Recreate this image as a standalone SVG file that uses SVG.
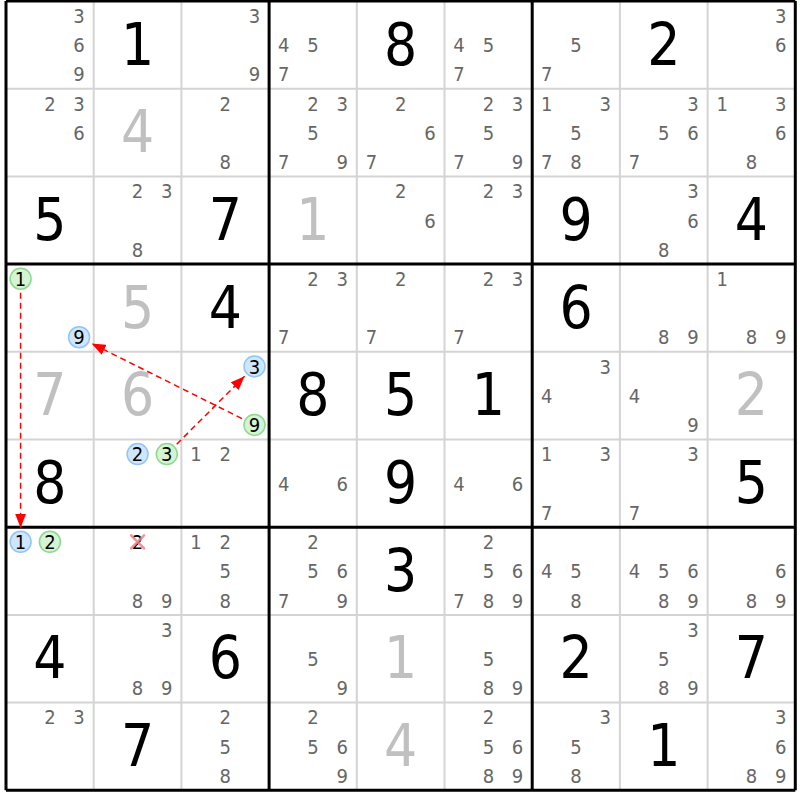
<svg xmlns="http://www.w3.org/2000/svg" width="800" height="800" viewBox="0 0 800 800">
<style>
text{font-family:"DejaVu Sans Condensed","DejaVu Sans",sans-serif;text-anchor:middle}
.g{font-size:58px;fill:#000}
.s{font-size:58px;fill:#c0c0c0}
.c{font-size:20px;fill:#666}
.k{font-size:20px;fill:#000}
.thin{stroke:#d4d4d4;stroke-width:2}
.thick{stroke:#000;stroke-width:3}
.hg{fill:#d4f4d4;stroke:#8fd88f;stroke-width:1.5}
.hb{fill:#cfe6ff;stroke:#92c5f5;stroke-width:1.5}
.arr{stroke:#ff0000;stroke-width:1.5;stroke-dasharray:6 4;fill:none}
.x{stroke:#f08080;stroke-width:2.5;stroke-linecap:round;opacity:0.85}
</style>
<defs>
<marker id="ah" viewBox="0 0 14 11" refX="14" refY="5.5" markerWidth="14" markerHeight="11" markerUnits="userSpaceOnUse" orient="auto">
<path d="M0,0 L14,5.5 L0,11 Z" fill="#ff0000"/>
</marker>
</defs>
<rect width="800" height="800" fill="#fff"/>
<g id="grid">
<path class="thin" d="M93.7,1V790.3M181.4,1V790.3M356.8,1V790.3M444.5,1V790.3M619.9,1V790.3M707.6,1V790.3M6,88.7H795.3M6,176.4H795.3M6,351.8H795.3M6,439.5H795.3M6,614.9H795.3M6,702.6H795.3"/>
<path class="thick" d="M6,1V790.3M269.1,1V790.3M532.2,1V790.3M795.3,1V790.3M6,1H795.3M6,264.1H795.3M6,527.2H795.3M6,790.3H795.3"/>
</g>
<!-- row 0 -->
<g id="r0c0" transform="translate(6,1)"><text class="c" x="73.1" y="21.9">3</text><text class="c" x="73.1" y="51.2">6</text><text class="c" x="73.1" y="80.4">9</text></g>
<g id="r0c1" transform="translate(93.7,1)"><text class="g" x="43.85" y="63.5">1</text></g>
<g id="r0c2" transform="translate(181.4,1)"><text class="c" x="73.1" y="21.9">3</text><text class="c" x="73.1" y="80.4">9</text></g>
<g id="r0c3" transform="translate(269.1,1)"><text class="c" x="14.6" y="51.2">4</text><text class="c" x="43.9" y="51.2">5</text><text class="c" x="14.6" y="80.4">7</text></g>
<g id="r0c4" transform="translate(356.8,1)"><text class="g" x="43.85" y="63.5">8</text></g>
<g id="r0c5" transform="translate(444.5,1)"><text class="c" x="14.6" y="51.2">4</text><text class="c" x="43.9" y="51.2">5</text><text class="c" x="14.6" y="80.4">7</text></g>
<g id="r0c6" transform="translate(532.2,1)"><text class="c" x="43.9" y="51.2">5</text><text class="c" x="14.6" y="80.4">7</text></g>
<g id="r0c7" transform="translate(619.9,1)"><text class="g" x="43.85" y="63.5">2</text></g>
<g id="r0c8" transform="translate(707.6,1)"><text class="c" x="73.1" y="21.9">3</text><text class="c" x="73.1" y="51.2">6</text></g>
<!-- row 1 -->
<g id="r1c0" transform="translate(6,88.7)"><text class="c" x="43.9" y="21.9">2</text><text class="c" x="73.1" y="21.9">3</text><text class="c" x="73.1" y="51.2">6</text></g>
<g id="r1c1" transform="translate(93.7,88.7)"><text class="s" x="43.85" y="63.5">4</text></g>
<g id="r1c2" transform="translate(181.4,88.7)"><text class="c" x="43.9" y="21.9">2</text><text class="c" x="43.9" y="80.4">8</text></g>
<g id="r1c3" transform="translate(269.1,88.7)"><text class="c" x="43.9" y="21.9">2</text><text class="c" x="73.1" y="21.9">3</text><text class="c" x="43.9" y="51.2">5</text><text class="c" x="14.6" y="80.4">7</text><text class="c" x="73.1" y="80.4">9</text></g>
<g id="r1c4" transform="translate(356.8,88.7)"><text class="c" x="43.9" y="21.9">2</text><text class="c" x="73.1" y="51.2">6</text><text class="c" x="14.6" y="80.4">7</text></g>
<g id="r1c5" transform="translate(444.5,88.7)"><text class="c" x="43.9" y="21.9">2</text><text class="c" x="73.1" y="21.9">3</text><text class="c" x="43.9" y="51.2">5</text><text class="c" x="14.6" y="80.4">7</text><text class="c" x="73.1" y="80.4">9</text></g>
<g id="r1c6" transform="translate(532.2,88.7)"><text class="c" x="14.6" y="21.9">1</text><text class="c" x="73.1" y="21.9">3</text><text class="c" x="43.9" y="51.2">5</text><text class="c" x="14.6" y="80.4">7</text><text class="c" x="43.9" y="80.4">8</text></g>
<g id="r1c7" transform="translate(619.9,88.7)"><text class="c" x="73.1" y="21.9">3</text><text class="c" x="43.9" y="51.2">5</text><text class="c" x="73.1" y="51.2">6</text><text class="c" x="14.6" y="80.4">7</text></g>
<g id="r1c8" transform="translate(707.6,88.7)"><text class="c" x="14.6" y="21.9">1</text><text class="c" x="73.1" y="21.9">3</text><text class="c" x="73.1" y="51.2">6</text><text class="c" x="43.9" y="80.4">8</text></g>
<!-- row 2 -->
<g id="r2c0" transform="translate(6,176.4)"><text class="g" x="43.85" y="63.5">5</text></g>
<g id="r2c1" transform="translate(93.7,176.4)"><text class="c" x="43.9" y="21.9">2</text><text class="c" x="73.1" y="21.9">3</text><text class="c" x="43.9" y="80.4">8</text></g>
<g id="r2c2" transform="translate(181.4,176.4)"><text class="g" x="43.85" y="63.5">7</text></g>
<g id="r2c3" transform="translate(269.1,176.4)"><text class="s" x="43.85" y="63.5">1</text></g>
<g id="r2c4" transform="translate(356.8,176.4)"><text class="c" x="43.9" y="21.9">2</text><text class="c" x="73.1" y="51.2">6</text></g>
<g id="r2c5" transform="translate(444.5,176.4)"><text class="c" x="43.9" y="21.9">2</text><text class="c" x="73.1" y="21.9">3</text></g>
<g id="r2c6" transform="translate(532.2,176.4)"><text class="g" x="43.85" y="63.5">9</text></g>
<g id="r2c7" transform="translate(619.9,176.4)"><text class="c" x="73.1" y="21.9">3</text><text class="c" x="73.1" y="51.2">6</text><text class="c" x="43.9" y="80.4">8</text></g>
<g id="r2c8" transform="translate(707.6,176.4)"><text class="g" x="43.85" y="63.5">4</text></g>
<!-- row 3 -->
<g id="r3c0" transform="translate(6,264.1)"><circle class="hg" cx="14.6" cy="14.6" r="10.5"/><text class="k" x="14.6" y="21.9">1</text><circle class="hb" cx="73.1" cy="73.1" r="10.5"/><text class="k" x="73.1" y="80.4">9</text></g>
<g id="r3c1" transform="translate(93.7,264.1)"><text class="s" x="43.85" y="63.5">5</text></g>
<g id="r3c2" transform="translate(181.4,264.1)"><text class="g" x="43.85" y="63.5">4</text></g>
<g id="r3c3" transform="translate(269.1,264.1)"><text class="c" x="43.9" y="21.9">2</text><text class="c" x="73.1" y="21.9">3</text><text class="c" x="14.6" y="80.4">7</text></g>
<g id="r3c4" transform="translate(356.8,264.1)"><text class="c" x="43.9" y="21.9">2</text><text class="c" x="14.6" y="80.4">7</text></g>
<g id="r3c5" transform="translate(444.5,264.1)"><text class="c" x="43.9" y="21.9">2</text><text class="c" x="73.1" y="21.9">3</text><text class="c" x="14.6" y="80.4">7</text></g>
<g id="r3c6" transform="translate(532.2,264.1)"><text class="g" x="43.85" y="63.5">6</text></g>
<g id="r3c7" transform="translate(619.9,264.1)"><text class="c" x="43.9" y="80.4">8</text><text class="c" x="73.1" y="80.4">9</text></g>
<g id="r3c8" transform="translate(707.6,264.1)"><text class="c" x="14.6" y="21.9">1</text><text class="c" x="43.9" y="80.4">8</text><text class="c" x="73.1" y="80.4">9</text></g>
<!-- row 4 -->
<g id="r4c0" transform="translate(6,351.8)"><text class="s" x="43.85" y="63.5">7</text></g>
<g id="r4c1" transform="translate(93.7,351.8)"><text class="s" x="43.85" y="63.5">6</text></g>
<g id="r4c2" transform="translate(181.4,351.8)"><circle class="hb" cx="73.1" cy="14.6" r="10.5"/><text class="k" x="73.1" y="21.9">3</text><circle class="hg" cx="73.1" cy="73.1" r="10.5"/><text class="k" x="73.1" y="80.4">9</text></g>
<g id="r4c3" transform="translate(269.1,351.8)"><text class="g" x="43.85" y="63.5">8</text></g>
<g id="r4c4" transform="translate(356.8,351.8)"><text class="g" x="43.85" y="63.5">5</text></g>
<g id="r4c5" transform="translate(444.5,351.8)"><text class="g" x="43.85" y="63.5">1</text></g>
<g id="r4c6" transform="translate(532.2,351.8)"><text class="c" x="73.1" y="21.9">3</text><text class="c" x="14.6" y="51.2">4</text></g>
<g id="r4c7" transform="translate(619.9,351.8)"><text class="c" x="14.6" y="51.2">4</text><text class="c" x="73.1" y="80.4">9</text></g>
<g id="r4c8" transform="translate(707.6,351.8)"><text class="s" x="43.85" y="63.5">2</text></g>
<!-- row 5 -->
<g id="r5c0" transform="translate(6,439.5)"><text class="g" x="43.85" y="63.5">8</text></g>
<g id="r5c1" transform="translate(93.7,439.5)"><circle class="hb" cx="43.9" cy="14.6" r="10.5"/><text class="k" x="43.9" y="21.9">2</text><circle class="hg" cx="73.1" cy="14.6" r="10.5"/><text class="k" x="73.1" y="21.9">3</text></g>
<g id="r5c2" transform="translate(181.4,439.5)"><text class="c" x="14.6" y="21.9">1</text><text class="c" x="43.9" y="21.9">2</text></g>
<g id="r5c3" transform="translate(269.1,439.5)"><text class="c" x="14.6" y="51.2">4</text><text class="c" x="73.1" y="51.2">6</text></g>
<g id="r5c4" transform="translate(356.8,439.5)"><text class="g" x="43.85" y="63.5">9</text></g>
<g id="r5c5" transform="translate(444.5,439.5)"><text class="c" x="14.6" y="51.2">4</text><text class="c" x="73.1" y="51.2">6</text></g>
<g id="r5c6" transform="translate(532.2,439.5)"><text class="c" x="14.6" y="21.9">1</text><text class="c" x="73.1" y="21.9">3</text><text class="c" x="14.6" y="80.4">7</text></g>
<g id="r5c7" transform="translate(619.9,439.5)"><text class="c" x="73.1" y="21.9">3</text><text class="c" x="14.6" y="80.4">7</text></g>
<g id="r5c8" transform="translate(707.6,439.5)"><text class="g" x="43.85" y="63.5">5</text></g>
<!-- row 6 -->
<g id="r6c0" transform="translate(6,527.2)"><circle class="hb" cx="14.6" cy="14.6" r="10.5"/><text class="k" x="14.6" y="21.9">1</text><circle class="hg" cx="43.9" cy="14.6" r="10.5"/><text class="k" x="43.9" y="21.9">2</text></g>
<g id="r6c1" transform="translate(93.7,527.2)"><text class="k" x="43.9" y="21.9">2</text><path class="x" d="M37.4,8.1L50.4,21.1M50.4,8.1L37.4,21.1"/><text class="c" x="43.9" y="80.4">8</text><text class="c" x="73.1" y="80.4">9</text></g>
<g id="r6c2" transform="translate(181.4,527.2)"><text class="c" x="14.6" y="21.9">1</text><text class="c" x="43.9" y="21.9">2</text><text class="c" x="43.9" y="51.2">5</text><text class="c" x="43.9" y="80.4">8</text></g>
<g id="r6c3" transform="translate(269.1,527.2)"><text class="c" x="43.9" y="21.9">2</text><text class="c" x="43.9" y="51.2">5</text><text class="c" x="73.1" y="51.2">6</text><text class="c" x="14.6" y="80.4">7</text><text class="c" x="73.1" y="80.4">9</text></g>
<g id="r6c4" transform="translate(356.8,527.2)"><text class="g" x="43.85" y="63.5">3</text></g>
<g id="r6c5" transform="translate(444.5,527.2)"><text class="c" x="43.9" y="21.9">2</text><text class="c" x="43.9" y="51.2">5</text><text class="c" x="73.1" y="51.2">6</text><text class="c" x="14.6" y="80.4">7</text><text class="c" x="43.9" y="80.4">8</text><text class="c" x="73.1" y="80.4">9</text></g>
<g id="r6c6" transform="translate(532.2,527.2)"><text class="c" x="14.6" y="51.2">4</text><text class="c" x="43.9" y="51.2">5</text><text class="c" x="43.9" y="80.4">8</text></g>
<g id="r6c7" transform="translate(619.9,527.2)"><text class="c" x="14.6" y="51.2">4</text><text class="c" x="43.9" y="51.2">5</text><text class="c" x="73.1" y="51.2">6</text><text class="c" x="43.9" y="80.4">8</text><text class="c" x="73.1" y="80.4">9</text></g>
<g id="r6c8" transform="translate(707.6,527.2)"><text class="c" x="73.1" y="51.2">6</text><text class="c" x="43.9" y="80.4">8</text><text class="c" x="73.1" y="80.4">9</text></g>
<!-- row 7 -->
<g id="r7c0" transform="translate(6,614.9)"><text class="g" x="43.85" y="63.5">4</text></g>
<g id="r7c1" transform="translate(93.7,614.9)"><text class="c" x="73.1" y="21.9">3</text><text class="c" x="43.9" y="80.4">8</text><text class="c" x="73.1" y="80.4">9</text></g>
<g id="r7c2" transform="translate(181.4,614.9)"><text class="g" x="43.85" y="63.5">6</text></g>
<g id="r7c3" transform="translate(269.1,614.9)"><text class="c" x="43.9" y="51.2">5</text><text class="c" x="73.1" y="80.4">9</text></g>
<g id="r7c4" transform="translate(356.8,614.9)"><text class="s" x="43.85" y="63.5">1</text></g>
<g id="r7c5" transform="translate(444.5,614.9)"><text class="c" x="43.9" y="51.2">5</text><text class="c" x="43.9" y="80.4">8</text><text class="c" x="73.1" y="80.4">9</text></g>
<g id="r7c6" transform="translate(532.2,614.9)"><text class="g" x="43.85" y="63.5">2</text></g>
<g id="r7c7" transform="translate(619.9,614.9)"><text class="c" x="73.1" y="21.9">3</text><text class="c" x="43.9" y="51.2">5</text><text class="c" x="43.9" y="80.4">8</text><text class="c" x="73.1" y="80.4">9</text></g>
<g id="r7c8" transform="translate(707.6,614.9)"><text class="g" x="43.85" y="63.5">7</text></g>
<!-- row 8 -->
<g id="r8c0" transform="translate(6,702.6)"><text class="c" x="43.9" y="21.9">2</text><text class="c" x="73.1" y="21.9">3</text></g>
<g id="r8c1" transform="translate(93.7,702.6)"><text class="g" x="43.85" y="63.5">7</text></g>
<g id="r8c2" transform="translate(181.4,702.6)"><text class="c" x="43.9" y="21.9">2</text><text class="c" x="43.9" y="51.2">5</text><text class="c" x="43.9" y="80.4">8</text></g>
<g id="r8c3" transform="translate(269.1,702.6)"><text class="c" x="43.9" y="21.9">2</text><text class="c" x="43.9" y="51.2">5</text><text class="c" x="73.1" y="51.2">6</text><text class="c" x="73.1" y="80.4">9</text></g>
<g id="r8c4" transform="translate(356.8,702.6)"><text class="s" x="43.85" y="63.5">4</text></g>
<g id="r8c5" transform="translate(444.5,702.6)"><text class="c" x="43.9" y="21.9">2</text><text class="c" x="43.9" y="51.2">5</text><text class="c" x="73.1" y="51.2">6</text><text class="c" x="43.9" y="80.4">8</text><text class="c" x="73.1" y="80.4">9</text></g>
<g id="r8c6" transform="translate(532.2,702.6)"><text class="c" x="73.1" y="21.9">3</text><text class="c" x="43.9" y="51.2">5</text><text class="c" x="43.9" y="80.4">8</text></g>
<g id="r8c7" transform="translate(619.9,702.6)"><text class="g" x="43.85" y="63.5">1</text></g>
<g id="r8c8" transform="translate(707.6,702.6)"><text class="c" x="73.1" y="21.9">3</text><text class="c" x="73.1" y="51.2">6</text><text class="c" x="43.9" y="80.4">8</text><text class="c" x="73.1" y="80.4">9</text></g>
<g id="connectors">
<line class="arr" x1="20.6" y1="292.7" x2="20.6" y2="527.8" marker-end="url(#ah)"/>
<line class="arr" x1="242" y1="418.6" x2="91.6" y2="343.5" marker-end="url(#ah)"/>
<line class="arr" x1="176.7" y1="444.2" x2="244.6" y2="376.3" marker-end="url(#ah)"/>
</g>
</svg>
